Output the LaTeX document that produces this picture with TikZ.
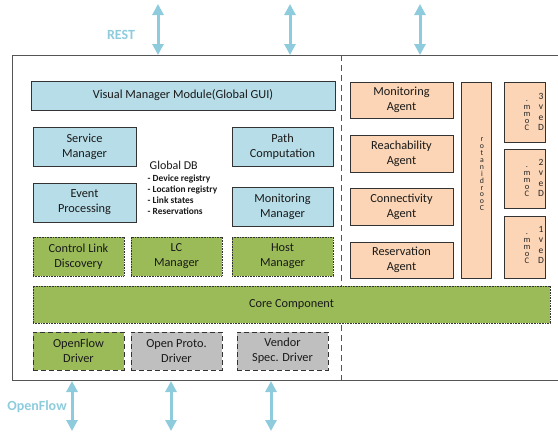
\documentclass[tikz,border=0pt]{standalone}
\usepackage{fontspec}
\setmainfont{Carlito}
\usetikzlibrary{arrows.meta}

\definecolor{boxblue}{HTML}{B7DDE8}
\definecolor{boxpeach}{HTML}{FBD5B5}
\definecolor{boxgreen}{HTML}{9BBB59}
\definecolor{boxgray}{HTML}{BFBFBF}
\definecolor{linkblue}{HTML}{8ECCDD}
\definecolor{edgegray}{HTML}{333333}
\definecolor{framegray}{HTML}{555555}

\tikzset{
  module/.style={draw=edgegray, line width=1pt, align=center, inner sep=0pt,
    font=\fontsize{12.3}{15}\selectfont, text=black!90},
  bluemod/.style={module, fill=boxblue},
  agentmod/.style={module, fill=boxpeach},
  greenmod/.style={module, fill=boxgreen, dash pattern=on 1pt off 0.6pt},
  drivermod/.style={module, dash pattern=on 5pt off 3pt},
  stacktext/.style={inner sep=0pt, align=center, text=black!85},
  link/.style={linkblue, line width=3pt,
    {Triangle[width=11pt,length=11pt]}-{Triangle[width=11pt,length=11pt]}},
  linklabel/.style={text=linkblue, font=\bfseries\fontsize{14}{16}\selectfont}
}

\begin{document}
\begin{tikzpicture}[x=1pt,y=-1pt]
\useasboundingbox (0,0) rectangle (558,432);

% controller frame, open to the right
\draw[framegray, line width=1pt] (560,55) -- (12,55) -- (12,380) -- (560,380);
\draw[framegray, line width=1pt, dash pattern=on 6pt off 4pt] (341,55) -- (341,380);

% global modules
\node[bluemod, minimum width=304pt, minimum height=29pt] (vmm) at (183,95.5) {Visual Manager Module(Global GUI)};
\node[bluemod, minimum width=103pt, minimum height=39pt] (svc) at (84.5,146.5) {Service\\Manager};
\node[bluemod, minimum width=103pt, minimum height=39pt] (evt) at (84.5,202.5) {Event\\Processing};
\node[bluemod, minimum width=101pt, minimum height=39pt] (path) at (282.5,146.5) {Path\\Computation};
\node[bluemod, minimum width=101pt, minimum height=39pt] (monmgr) at (282.5,206.5) {Monitoring\\Manager};

\node[anchor=west, inner sep=0pt, font=\fontsize{12}{14}\selectfont, text=black!90] (gdb) at (149.5,165) {Global DB};
\node[anchor=north west, inner sep=0pt, align=left, text=black!90,
      font=\bfseries\fontsize{9.4}{11.2}\selectfont] (gdblist) at (147.5,174.5)
  {- Device registry\\- Location registry\\- Link states\\- Reservations};

\node[greenmod, minimum width=91pt, minimum height=39pt] (cld) at (78.5,256.5) {Control Link\\Discovery};
\node[greenmod, minimum width=91pt, minimum height=39pt] (lc) at (176.5,256.5) {LC\\Manager};
\node[greenmod, minimum width=101pt, minimum height=39pt] (host) at (282.5,256.5) {Host\\Manager};

\node[greenmod, minimum width=517pt, minimum height=37pt] (core) at (291.5,304.5) {Core Component};

\node[drivermod, fill=boxgreen, minimum width=91pt, minimum height=38pt] (ofd) at (78.5,351) {OpenFlow\\Driver};
\node[drivermod, fill=boxgray, minimum width=91pt, minimum height=38pt] (opd) at (176.5,351) {Open Proto.\\Driver};
\node[drivermod, fill=boxgray, minimum width=91pt, minimum height=38pt] (vsd) at (282.5,351) {Vendor\\Spec. Driver};

% local agents
\node[agentmod, minimum width=103pt, minimum height=36pt] (monag) at (401.5,100) {Monitoring\\Agent};
\node[agentmod, minimum width=103pt, minimum height=37pt] (reach) at (401.5,153.5) {Reachability\\Agent};
\node[agentmod, minimum width=103pt, minimum height=37pt] (conn) at (401.5,206.5) {Connectivity\\Agent};
\node[agentmod, minimum width=103pt, minimum height=36pt] (resv) at (401.5,260) {Reservation\\Agent};

\node[agentmod, minimum width=30pt, minimum height=196pt] (coord) at (476,180) {};
\node[stacktext, font=\fontsize{7.8}{6.9}\selectfont, anchor=south] (coordtxt) at (482,211)
  {r\\o\\t\\a\\n\\i\\d\\r\\o\\o\\C};

\node[agentmod, minimum width=41pt, minimum height=60pt] (dev3) at (525,112) {};
\node[agentmod, minimum width=41pt, minimum height=59pt] (dev2) at (525,178.5) {};
\node[agentmod, minimum width=41pt, minimum height=62pt] (dev1) at (525,247) {};

\node[stacktext, font=\fontsize{9.5}{10.5}\selectfont, anchor=south] (dev3a) at (541,131) {3\\v\\e\\D};
\node[stacktext, font=\fontsize{8.5}{7.2}\selectfont, anchor=south] (dev3b) at (527,131) {.\\m\\m\\o\\C};
\node[stacktext, font=\fontsize{9.5}{10.5}\selectfont, anchor=south] (dev2a) at (541,197) {2\\v\\e\\D};
\node[stacktext, font=\fontsize{8.5}{7.2}\selectfont, anchor=south] (dev2b) at (527,197) {.\\m\\m\\o\\C};
\node[stacktext, font=\fontsize{9.5}{10.5}\selectfont, anchor=south] (dev1a) at (541,264) {1\\v\\e\\D};
\node[stacktext, font=\fontsize{8.5}{7.2}\selectfont, anchor=south] (dev1b) at (527,264) {.\\m\\m\\o\\C};

% northbound and southbound interfaces
\coordinate (n1top) at (158,4);   \coordinate (n1bot) at (158,55);
\coordinate (n2top) at (290,4);   \coordinate (n2bot) at (290,55);
\coordinate (n3top) at (420,4);   \coordinate (n3bot) at (420,55);
\coordinate (s1top) at (72,381);  \coordinate (s1bot) at (72,431);
\coordinate (s2top) at (171,381); \coordinate (s2bot) at (171,431);
\coordinate (s3top) at (271,381); \coordinate (s3bot) at (271,431);

\draw[link] (n1top) -- (n1bot);
\draw[link] (n2top) -- (n2bot);
\draw[link] (n3top) -- (n3bot);
\draw[link] (s1top) -- (s1bot);
\draw[link] (s2top) -- (s2bot);
\draw[link] (s3top) -- (s3bot);

\node[linklabel] (rest) at (121,35) {REST};
\node[linklabel] (oflabel) at (37,407) {OpenFlow};
\end{tikzpicture}
\end{document}
